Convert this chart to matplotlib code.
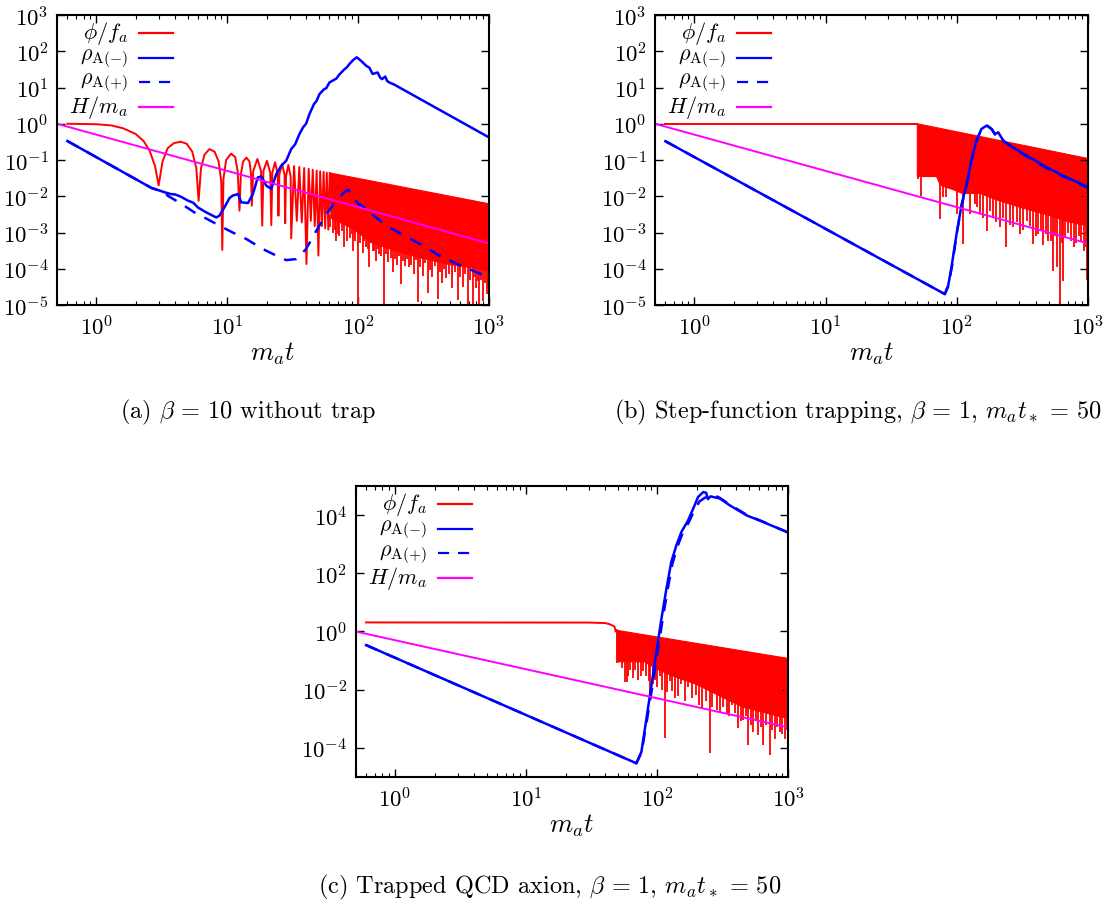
import numpy as np
import matplotlib
matplotlib.use("Agg")
import matplotlib.pyplot as plt
from matplotlib.ticker import LogLocator, FuncFormatter, NullFormatter, NullLocator

plt.rcParams.update({
    "font.family": "serif",
    "font.serif": ["cmr10"],
    "mathtext.fontset": "cm",
    "axes.formatter.use_mathtext": True,
    "axes.unicode_minus": True,
})

RED = "#ff0000"
BLUE = "#0000ff"
MAGENTA = "#ff00ff"

# ---------------- shared: Hubble rate H/m_a ----------------
H_t = [0.5, 1000]
H_val = [1.0, 5e-4]

# ---------------- (a) beta = 10, no trap ----------------
phi_a_t = [0.6, 1.0, 1.3, 1.6, 2.0, 2.3, 2.55, 2.8, 2.99,
           3.2, 3.5, 3.9, 4.4, 4.9, 5.4, 5.8, 6.04,
           6.3, 6.7, 7.3, 8.0, 8.6, 9.0, 9.16,
           9.35, 9.8, 10.7, 11.5, 12.0, 12.4,
           12.7, 13.2, 14.0, 14.8, 15.2, 15.4,
           15.8, 17.0, 18.1, 18.5,
           18.9, 20.1, 21.3, 21.7,
           22.1, 23.2, 24.3, 24.6,
           25.0, 26.2, 27.4, 27.7,
           28.1, 29.3, 30.5, 30.8,
           32.4, 34.0, 35.5, 37.1, 38.7, 40.3, 41.9, 43.5, 45.0, 46.6,
           48.2, 49.7, 51.3, 52.9, 54.5, 56.0, 57.6, 59.2, 60.7]
phi_a = [1.0, 0.97, 0.9, 0.75, 0.52, 0.33, 0.18, 0.07, 0.02,
         0.09, 0.21, 0.29, 0.32, 0.28, 0.17, 0.06, 0.0075,
         0.06, 0.14, 0.2, 0.17, 0.09, 0.025, 0.00033,
         0.03, 0.1, 0.15, 0.12, 0.05, 0.004,
         0.04, 0.09, 0.117, 0.09, 0.04, 0.0055,
         0.05, 0.107, 0.05, 0.00155,
         0.05, 0.095, 0.045, 0.0016,
         0.045, 0.087, 0.04, 0.0029,
         0.04, 0.078, 0.04, 0.0018,
         0.035, 0.073, 0.035, 0.00069,
         0.068, 0.0021, 0.064, 0.0019, 0.060, 0.000135, 0.057, 0.0021, 0.054, 0.0015,
         0.051, 0.00023, 0.049, 0.0015, 0.047, 0.0013, 0.045, 0.0012, 0.044]
# dense oscillation band: upper envelope, then lower edge (right to left)
band_a_t = [60.7, 1000, 1000, 700, 500, 300, 200, 130, 90, 62]
band_a = [0.044, 0.0062, 9e-5, 1.1e-4, 1.3e-4, 2e-4, 3e-4, 5e-4, 1.3e-3, 2.5e-3]
spike_a_t = [61, 64, 66, 68, 70, 72, 75, 78.6, 82, 86, 89, 92, 95, 99, 103, 108, 111,
             115, 118, 122, 126, 130, 133, 137, 141, 145, 150, 158, 164, 170, 177,
             184, 191, 198, 205, 213, 221, 230, 238, 246, 255, 265, 275, 285, 298,
             311, 325, 340, 355, 370, 387, 405, 422, 440, 455, 470, 495, 520, 548,
             576, 600, 628, 655, 687, 718, 750, 775, 800, 822, 843, 872, 905, 935,
             960, 985]
spike_a = [1.4e-3, 1e-3, 1.2e-3, 6e-4, 9e-4, 8e-4, 1.1e-3, 4e-4, 6e-4, 7e-4, 9e-4,
           3e-4, 6e-4, 1e-5, 5e-4, 2.7e-4, 6e-4, 4e-4, 3.5e-4, 1.1e-4, 5e-4, 3e-4,
           3e-4, 1.6e-4, 3.5e-4, 2.5e-4, 2.2e-4, 1e-5, 2.5e-4, 1.5e-4, 2e-4, 8e-5,
           1.8e-4, 1.3e-4, 2.2e-4, 3.8e-5, 1.6e-4, 1.2e-4, 1.9e-4, 1.1e-4, 1.3e-4,
           7e-5, 1.7e-4, 1.2e-5, 1.1e-4, 6.5e-5, 1.4e-4, 2.2e-5, 9e-5, 6e-5, 1.2e-4,
           1.5e-5, 8e-5, 4e-5, 1e-4, 5.5e-5, 7e-5, 3e-5, 8e-5, 1.4e-5, 6e-5, 3.2e-5,
           7e-5, 1e-5, 5e-5, 1e-5, 6e-5, 3e-5, 4.5e-5, 1e-5, 5e-5, 1.3e-5, 4e-5,
           2e-5, 3e-5]
rm_a_t = [0.6, 2.63, 3.32, 3.7, 4.0, 4.4, 5.0, 5.5, 5.97, 6.9, 8.24, 8.7, 9.5, 10.4,
          11.0, 12.1, 12.8, 14.4, 15.7, 17.1, 18.2, 19.9, 21.7, 23.7, 25.8, 28.2,
          30.8, 33, 35.6, 38, 40, 42.5, 46, 48, 50.7, 55, 57, 60.4, 65, 68, 72, 78,
          82, 85.8, 92, 97.6, 105, 115, 122, 129, 141, 147, 152, 161, 167, 173, 189,
          1000]
rm_a = [0.334, 0.017, 0.0129, 0.0115, 0.0112, 0.0098, 0.0076, 0.0066, 0.0049, 0.0036,
        0.0026, 0.0029, 0.0049, 0.0089, 0.0104, 0.0115, 0.0068, 0.0065, 0.0115, 0.033,
        0.035, 0.0195, 0.016, 0.041, 0.069, 0.095, 0.2, 0.27, 0.52, 0.8, 1.0, 1.86,
        3.5, 4.2, 6.6, 9, 9.5, 13.8, 16, 17.5, 23, 31, 36, 44.5, 58, 68, 55, 40, 35,
        23.6, 26, 19, 17, 20, 15, 13.8, 12, 0.42]
rp_a_t = [0.6, 2.63, 3.32, 3.5, 4.45, 5.6, 7.1, 9.25, 11.0, 14, 18.7, 23.7, 28.2, 33.6,
          40, 47.8, 57, 68, 78.6, 84, 88.5, 99.7, 108, 118, 137, 173, 232, 311, 418,
          560, 750, 1000]
rp_a = [0.334, 0.017, 0.0129, 0.0104, 0.0062, 0.0036, 0.0023, 0.00138, 0.001, 0.00066,
        0.00035, 0.00023, 0.000173, 0.000185, 0.00035, 0.0011, 0.0032, 0.0076, 0.013,
        0.015, 0.0115, 0.0062, 0.0055, 0.004, 0.0026, 0.00138, 0.00078, 0.00044,
        0.00023, 0.00014, 0.000089, 0.000058]

# ---------------- (b) step-function trapping ----------------
phi_b_t = [0.6, 50]
phi_b = [1.0, 1.0]
band_b_t = [50, 1000, 1000, 700, 500, 300, 200, 150, 110, 95, 75, 70, 50]
band_b = [1.0, 0.11, 1.5e-3, 2e-3, 3e-3, 5e-3, 8e-3, 0.012, 0.012, 0.015, 0.02, 0.035,
          0.035]
spike_b_t = [50.7, 53.7, 74, 78.6, 83, 89.5, 100.7, 112, 126, 137, 143, 150, 158, 169,
             178, 189, 200, 213, 225, 239, 254, 269, 286, 303, 320, 340, 360, 382,
             400, 417, 437, 456, 477, 498, 520, 543, 560, 576, 611, 630, 648, 670,
             700, 740, 780, 815, 850, 890, 930, 960, 980]
spike_b = [0.03, 0.0104, 0.0023, 0.0093, 0.0095, 0.0195, 0.0032, 0.00048, 0.0032,
           0.0062, 0.005, 0.0032, 0.0025, 0.0011, 0.004, 0.0026, 0.002, 0.0014,
           0.0025, 0.00039, 0.0016, 0.0014, 0.002, 0.0009, 0.0012, 0.0021, 0.0015,
           0.00048, 0.0008, 0.0009, 0.0011, 0.00044, 0.0009, 0.00059, 0.0006,
           0.000089, 0.0008, 0.00011, 0.00001, 0.0005, 0.000047, 0.0007, 0.001,
           0.0006, 0.0004, 0.0005, 0.0008, 0.0006, 0.0003, 0.0004, 0.00005]
rm_b_t = [0.6, 81, 86, 91, 99.5, 109, 119, 129, 141, 154, 169, 184, 195, 207, 226, 269,
          361, 484, 646, 1000]
rm_b = [0.33, 2e-5, 3.5e-5, 1.1e-4, 9e-4, 6.2e-3, 0.022, 0.095, 0.34, 0.72, 0.89, 0.72,
        0.52, 0.58, 0.34, 0.22, 0.117, 0.063, 0.037, 0.018]
rp_b_t = [0.6, 81, 86, 92, 100, 110, 120, 130, 142, 155, 170, 185, 196, 208, 228, 270,
          360, 480, 650, 1000]
rp_b = [0.33, 2e-5, 3.3e-5, 1.2e-4, 1e-3, 6.5e-3, 0.024, 0.1, 0.35, 0.74, 0.9, 0.7, 0.5,
        0.55, 0.33, 0.21, 0.112, 0.06, 0.035, 0.017]

# ---------------- (c) trapped QCD axion ----------------
phi_c_t = [0.6, 30, 40, 43, 45, 47.3, 48.2, 49]
phi_c = [2.05, 2.03, 1.95, 1.8, 1.65, 1.45, 1.0, 1.1]
band_c_t = [49, 1000, 1000, 700, 450, 300, 200, 130, 100, 80, 49]
band_c = [1.1, 0.118, 1e-3, 1.5e-3, 2.5e-3, 6e-3, 0.015, 0.03, 0.05, 0.09, 0.09]
spike_c_t = [49.3, 53.8, 56.5, 58.8, 60, 62.3, 65, 67.3, 71.3, 75, 78, 82.7, 86, 88.8,
             92, 95.7, 100, 104.5, 109, 114, 119, 125, 130, 136, 145, 153, 162, 172,
             185, 199, 210, 221, 236, 252, 262, 287, 300, 318, 338, 352, 369, 390,
             414, 433, 452, 473, 494, 517, 540, 565, 589, 615, 643, 680, 724, 755,
             791, 825, 863, 900, 942, 975]
spike_c = [0.08, 0.054, 0.018, 0.018, 0.03, 0.048, 0.025, 0.048, 0.021, 0.03, 0.042,
           0.03, 0.02, 0.0064, 0.015, 0.021, 0.012, 0.03, 0.01, 2.1e-4, 0.008, 0.019,
           0.009, 5e-3, 0.006, 0.016, 0.004, 0.012, 0.005, 6.4e-3, 0.003, 2.2e-3,
           0.004, 6.5e-5, 0.0025, 0.002, 1.7e-3, 0.0025, 1.5e-3, 0.0012, 3e-3, 0.0016,
           4.6e-4, 0.0008, 9e-4, 0.0012, 1.2e-4, 0.0006, 3.5e-4, 0.0008, 2.7e-4,
           0.0005, 1.2e-4, 0.0006, 5.6e-5, 0.0004, 2e-4, 0.0005, 3.5e-4, 0.0003, 2e-4,
           0.0004]
rm_c_t = [0.6, 69.3, 75.7, 82.7, 90.3, 98.6, 107.7, 117.5, 128, 140, 153, 172, 188, 205,
          224, 236, 244, 255, 300, 358, 480, 643, 970, 1000]
rm_c = [0.34, 2.9e-5, 7.2e-5, 1e-3, 0.014, 0.2, 2.8, 30, 250, 930, 2700, 6700, 1.7e4,
        4.3e4, 6.3e4, 6e4, 3.6e4, 4.5e4, 3.8e4, 2.2e4, 1e4, 5.9e3, 2.7e3, 2.5e3]
rp_c_t = [0.6, 69.3, 76, 83.5, 91.5, 100, 109.5, 119.5, 130, 142, 156, 175, 192, 210,
          230, 250, 270, 300, 360, 480, 643, 970, 1000]
rp_c = [0.34, 2.9e-5, 7e-5, 9e-4, 0.012, 0.17, 2.3, 25, 200, 800, 2400, 6000, 1.5e4,
        3e4, 4e4, 4.5e4, 5e4, 4e4, 2.3e4, 1.05e4, 6e3, 2.7e3, 2.5e3]

labels = [r"$\phi/f_a$", r"$\rho_{\mathrm{A}(-)}$", r"$\rho_{\mathrm{A}(+)}$", r"$H/m_a$"]
DASH = (0, (5, 4))


def exp_label(v, pos):
    return r"$10^{%d}$" % int(round(np.log10(v)))


def style(ax, ybase, ylim):
    ax.set_xscale("log")
    ax.set_yscale("log")
    ax.set_xlim(0.5, 1000)
    ax.set_ylim(*ylim)
    ax.xaxis.set_major_locator(LogLocator(base=10, numticks=10))
    ax.xaxis.set_minor_locator(LogLocator(base=10, subs=range(2, 10), numticks=30))
    ax.xaxis.set_minor_formatter(NullFormatter())
    ax.xaxis.set_major_formatter(FuncFormatter(exp_label))
    ax.yaxis.set_major_locator(LogLocator(base=ybase, numticks=20))
    ax.yaxis.set_minor_locator(NullLocator())
    ax.yaxis.set_major_formatter(FuncFormatter(exp_label))
    ax.tick_params(which="both", direction="in", top=True, right=True, labelsize=16.5)
    ax.tick_params(which="major", length=6, width=1.0)
    ax.tick_params(which="minor", length=3, width=0.8)
    ax.tick_params(axis="x", pad=7)
    ax.tick_params(axis="y", pad=6)
    for s in ax.spines.values():
        s.set_linewidth(1.5)
    ax.set_xlabel(r"$m_a t$", fontsize=19)
    ax.xaxis.set_label_coords(0.5, -0.12)


def key(ax):
    # gnuplot-style key: label right-aligned, sample to its right
    w, h = 432.0, 290.0
    rows = [17.5, 42.5, 67.0, 91.5]
    styles = [(RED, "-"), (BLUE, "-"), (BLUE, DASH), (MAGENTA, "-")]
    for lab, dy, (c, ls) in zip(labels, rows, styles):
        y = 1 - dy / h
        ax.text(71 / w, y, lab, transform=ax.transAxes, ha="right", va="center",
                fontsize=16)
        ax.plot([82 / w, 116 / w], [y, y], transform=ax.transAxes, color=c, ls=ls,
                lw=1.6)


def panel(ax, phi_t, phi, band_t, band, sp_t, sp, sp_top, rm_t, rm, rp_t, rp):
    ax.plot(phi_t, phi, color=RED, lw=1.4)
    ax.fill(band_t, band, color=RED, lw=0.8)
    ax.vlines(sp_t, sp, sp_top, colors=RED, lw=1.3)
    ax.plot(rm_t, rm, color=BLUE, lw=1.8)
    ax.plot(rp_t, rp, color=BLUE, lw=1.8, ls=DASH)
    ax.plot(H_t, H_val, color=MAGENTA, lw=1.4)
    key(ax)


fig = plt.figure(figsize=(11.1, 9.04), dpi=100)
ax_a = fig.add_axes([0.05135, 0.6615, 0.38919, 0.3208])
ax_b = fig.add_axes([0.59009, 0.6615, 0.39009, 0.3208])
ax_c = fig.add_axes([0.32045, 0.13972, 0.38973, 0.32124])

panel(ax_a, phi_a_t, phi_a, band_a_t, band_a, spike_a_t, spike_a, 3e-3,
      rm_a_t, rm_a, rp_a_t, rp_a)
style(ax_a, 10, (1e-5, 1e3))

panel(ax_b, phi_b_t, phi_b, band_b_t, band_b, spike_b_t, spike_b, 0.04,
      rm_b_t, rm_b, rp_b_t, rp_b)
style(ax_b, 10, (1e-5, 1e3))

panel(ax_c, phi_c_t, phi_c, band_c_t, band_c, spike_c_t, spike_c, 0.09,
      rm_c_t, rm_c, rp_c_t, rp_c)
style(ax_c, 100, (1e-5, 1e5))

fig.text(0.2234, 0.5442, r"(a) $\beta\,=\,10$ without trap", ha="center",
         va="center", fontsize=17.5)
fig.text(0.7730, 0.5442,
         r"(b) Step-function trapping, $\beta\,=\,1$, $m_a t_*\,=\,50$",
         ha="center", va="center", fontsize=17.5)
fig.text(0.4955, 0.0188, r"(c) Trapped QCD axion, $\beta\,=\,1$, $m_a t_*\,=\,50$",
         ha="center", va="center", fontsize=17.5)

fig.savefig("out.png", dpi=100)
